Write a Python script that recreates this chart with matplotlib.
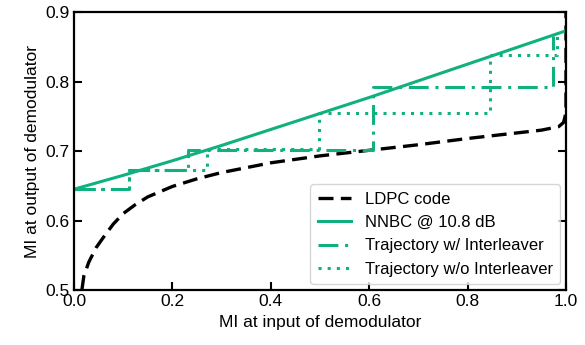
import matplotlib
matplotlib.use('Agg')
import matplotlib.pyplot as plt

plt.rcParams['font.family'] = ['Liberation Sans', 'DejaVu Sans']

green = '#10b07f'

# LDPC decoder EXIT curve (inverted axes)
ldpc_x = [0.016, 0.02, 0.03, 0.045, 0.06, 0.08, 0.1, 0.125, 0.15, 0.2, 0.25, 0.3,
          0.4, 0.5, 0.6, 0.7, 0.8, 0.9, 0.95, 0.985, 0.995, 1.0, 1.0]
ldpc_y = [0.50, 0.52, 0.54, 0.561, 0.576, 0.595, 0.61, 0.623, 0.634, 0.649, 0.66, 0.669,
          0.683, 0.693, 0.701, 0.709, 0.718, 0.726, 0.73, 0.735, 0.741, 0.755, 0.9]

# demodulator EXIT curve
nnbc_x = [0.0, 0.1, 0.2, 0.3, 0.4, 0.5, 0.6, 0.7, 0.8, 0.9, 1.0]
nnbc_y = [0.645, 0.665, 0.686, 0.708, 0.731, 0.754, 0.777, 0.801, 0.825, 0.849, 0.873]

# decoding trajectories
traj_il_x = [0.0, 0.112, 0.112, 0.232, 0.232, 0.608, 0.608, 0.974, 0.974]
traj_il_y = [0.645, 0.645, 0.672, 0.672, 0.702, 0.702, 0.7925, 0.7925, 0.866]

traj_noil_x = [0.0, 0.112, 0.112, 0.27, 0.27, 0.497, 0.497, 0.845, 0.845, 0.982, 0.982]
traj_noil_y = [0.645, 0.645, 0.672, 0.672, 0.703, 0.703, 0.754, 0.754, 0.838, 0.838, 0.868]

fig = plt.figure(figsize=(5.85, 3.45), dpi=100)
ax = fig.add_axes([0.1265, 0.1594, 0.841, 0.8058])

ax.plot(ldpc_x, ldpc_y, color='black', lw=2.4, dashes=(4.5, 2.2), label='LDPC code')
ax.plot(nnbc_x, nnbc_y, color=green, lw=2.2, label='NNBC @ 10.8 dB')
ax.plot(traj_il_x, traj_il_y, color=green, lw=2.2, dashes=(6.5, 2.2, 1.0, 2.2),
        label='Trajectory w/ Interleaver')
ax.plot(traj_noil_x, traj_noil_y, color=green, lw=2.2, dashes=(1.0, 2.0),
        label='Trajectory w/o Interleaver')

ax.set_xlim(0, 1)
ax.set_ylim(0.5, 0.9)
ax.set_xticks([0.0, 0.2, 0.4, 0.6, 0.8, 1.0])
ax.set_yticks([0.5, 0.6, 0.7, 0.8, 0.9])
ax.tick_params(direction='in', length=6, width=1.5, labelsize=12.5, right=True, pad=3)
for s in ax.spines.values():
    s.set_linewidth(1.6)

ax.set_xlabel('MI at input of demodulator', fontsize=12.5)
ax.set_ylabel('MI at output of demodulator', fontsize=12.5)

ax.legend(loc='lower right', fontsize=12, borderaxespad=0.35, handlelength=2.0,
          borderpad=0.45)

fig.savefig('out.png', dpi=100)
